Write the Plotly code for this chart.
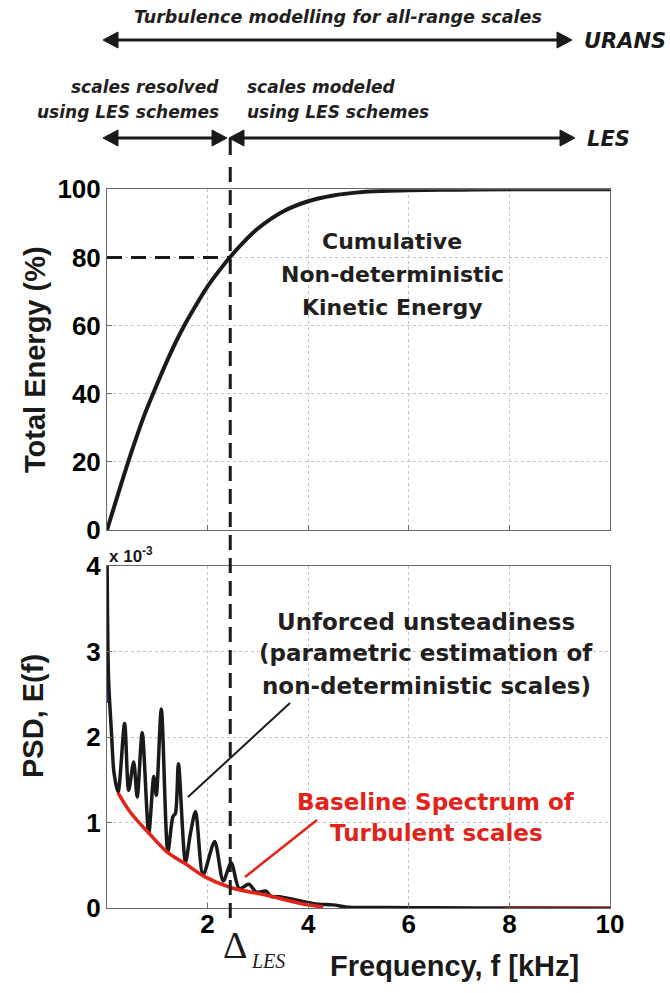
import plotly.graph_objects as go

# ---------------- data ----------------
# cumulative non-deterministic kinetic energy, frequency in kHz vs % of total
cum_freq = [0, 0.25, 0.5, 0.75, 1.0, 1.25, 1.5, 1.75, 2.0, 2.25, 2.5, 2.75,
            3.0, 3.5, 4.0, 4.5, 5.0, 5.5, 6.0, 7.0, 8.0, 10.0]
cum_energy = [0, 12.0, 23.5, 34.0, 43.0, 51.5, 59.0, 65.5, 71.5, 76.5, 81.0, 85.0,
              88.5, 93.5, 96.5, 98.2, 99.1, 99.5, 99.7, 99.9, 100, 100]

# unforced unsteadiness PSD (units of 1e-3)
psd_freq = [0.0, 0.03, 0.086, 0.14, 0.22, 0.35, 0.43, 0.53, 0.60, 0.70, 0.83, 0.93,
            0.98, 1.08, 1.21, 1.31, 1.36, 1.42, 1.56, 1.66, 1.76, 1.91, 2.14, 2.31,
            2.47, 2.63, 2.82, 2.97, 3.16, 3.26, 3.43, 3.73, 4.16, 4.49, 4.82, 5.5,
            6.5, 8.0, 10.0]
psd_value = [4.3, 2.7, 2.08, 1.58, 1.36, 2.16, 1.38, 1.71, 1.30, 2.05, 0.88, 1.54,
             1.32, 2.33, 0.66, 1.07, 1.11, 1.69, 0.54, 0.88, 1.13, 0.39, 0.78, 0.32,
             0.53, 0.23, 0.28, 0.19, 0.20, 0.14, 0.135, 0.10, 0.05, 0.04, 0.012, 0.008,
             0.005, 0.003, 0.002]

# baseline spectrum of turbulent scales (units of 1e-3)
base_freq = [0.22, 0.48, 0.83, 1.21, 1.56, 1.94, 2.47, 3.16, 3.83, 4.3]
base_value = [1.35, 1.11, 0.88, 0.65, 0.52, 0.37, 0.24, 0.155, 0.06, 0.015]
base_tail_freq = [7.9, 10.0]
base_tail_value = [0, 0]

blue_freq = [0.0, 0.0]
blue_value = [4.0, 2.4]

DELTA_LES = 2.45      # kHz
ENERGY_LEVEL = 80     # %

upper_yticks = [0, 20, 40, 60, 80, 100]
lower_yticks = [0, 1, 2, 3, 4]
lower_xticks = [2, 4, 6, 8, 10]
grid_xticks = [0, 2, 4, 6, 8, 10]

# ---------------- layout helpers ----------------
W, H = 670, 993
L, R = 107, 60
PW = W - L - R


def px_x(p):
    return (p - L) / PW


def px_y(p):
    return 1 - p / H


BLACK = "#1a1a1a"
TXT = "#231f20"
RED = "#e2231a"
FRAME = "#6a6a6a"

fig = go.Figure()

fig.add_trace(go.Scatter(x=cum_freq, y=cum_energy, mode="lines",
                         line=dict(color=BLACK, width=4, shape="spline", smoothing=1.0),
                         xaxis="x", yaxis="y", showlegend=False, hoverinfo="skip"))

fig.add_trace(go.Scatter(x=blue_freq, y=blue_value, mode="lines",
                         line=dict(color="#3b3bd6", width=2),
                         xaxis="x2", yaxis="y2", showlegend=False, hoverinfo="skip"))
fig.add_trace(go.Scatter(x=psd_freq, y=psd_value, mode="lines",
                         line=dict(color=BLACK, width=3.5, shape="spline", smoothing=0.8),
                         xaxis="x2", yaxis="y2", showlegend=False, hoverinfo="skip"))
fig.add_trace(go.Scatter(x=base_freq, y=base_value, mode="lines",
                         line=dict(color=RED, width=3.5, shape="spline", smoothing=1.0),
                         xaxis="x2", yaxis="y2", showlegend=False, hoverinfo="skip"))
fig.add_trace(go.Scatter(x=base_tail_freq, y=base_tail_value, mode="lines",
                         line=dict(color="#8a1010", width=3),
                         xaxis="x2", yaxis="y2", showlegend=False, hoverinfo="skip"))

axis_common = dict(showline=True, mirror=True, linecolor=FRAME, linewidth=1,
                   ticks="inside", ticklen=5, tickcolor=FRAME,
                   showgrid=True, gridcolor="#c4c4c4", griddash="dot", gridwidth=1,
                   zeroline=False, automargin=False,
                   tickfont=dict(family="Liberation Sans", size=26, color="black", weight="bold"))

fig.update_layout(
    width=W, height=H,
    margin=dict(l=L, r=R, t=0, b=0),
    paper_bgcolor="white", plot_bgcolor="white",
    xaxis=dict(domain=[0, 1], anchor="y", range=[0, 10], tickvals=grid_xticks,
               showticklabels=False, **axis_common),
    yaxis=dict(domain=[px_y(530), px_y(189.3)], anchor="x", range=[0, 100],
               tickvals=upper_yticks, **axis_common),
    xaxis2=dict(domain=[0, 1], anchor="y2", range=[0, 10], tickvals=lower_xticks,
                ticklabelstandoff=-8, **axis_common),
    yaxis2=dict(domain=[px_y(908.3), px_y(566)], anchor="x2", range=[0, 4],
                tickvals=lower_yticks, **axis_common),
)

shapes = []
# vertical Δ_LES dashed line
shapes.append(dict(type="line", xref="x", yref="paper", x0=DELTA_LES, x1=DELTA_LES,
                   y0=px_y(155), y1=px_y(138), line=dict(color=BLACK, width=3)))
shapes.append(dict(type="line", xref="x", yref="paper", x0=DELTA_LES, x1=DELTA_LES,
                   y0=px_y(918), y1=px_y(163),
                   line=dict(color=BLACK, width=3, dash="15px,8px")))
# horizontal 80 % dashed line
shapes.append(dict(type="line", xref="x", yref="y", x0=0, x1=DELTA_LES,
                   y0=ENERGY_LEVEL, y1=ENERGY_LEVEL,
                   line=dict(color=BLACK, width=3, dash="15px,9px")))


def arrow_line(x0, x1, y):
    shapes.append(dict(type="line", xref="paper", yref="paper",
                       x0=px_x(x0), x1=px_x(x1), y0=px_y(y), y1=px_y(y),
                       line=dict(color=BLACK, width=3)))


def head(tip, y, direction):
    base = tip - direction * 15
    path = (f"M {px_x(tip)},{px_y(y)} L {px_x(base)},{px_y(y - 8)} "
            f"L {px_x(base)},{px_y(y + 8)} Z")
    shapes.append(dict(type="path", xref="paper", yref="paper", path=path,
                       fillcolor=BLACK, line=dict(color=BLACK, width=1)))


# URANS arrow
arrow_line(110, 565, 40)
head(103, 40, -1)
head(572, 40, 1)
# LES arrows
arrow_line(110, 220, 138)
head(103, 138, -1)
head(227, 138, 1)
arrow_line(236, 568, 138)
head(229, 138, -1)
head(575, 138, 1)

# pointer lines
shapes.append(dict(type="line", xref="paper", yref="paper",
                   x0=px_x(188), y0=px_y(797), x1=px_x(290), y1=px_y(703),
                   line=dict(color=BLACK, width=2)))
shapes.append(dict(type="line", xref="paper", yref="paper",
                   x0=px_x(245), y0=px_y(877), x1=px_x(317), y1=px_y(820),
                   line=dict(color=RED, width=2.5)))

fig.update_layout(shapes=shapes)

ann = []


def text(t, x, y, size, xanchor="center", color=TXT, family="DejaVu Sans",
         weight="bold", style="normal", angle=0):
    ann.append(dict(text=t, x=px_x(x), y=px_y(y), xref="paper", yref="paper",
                    xanchor=xanchor, yanchor="middle", showarrow=False, textangle=angle,
                    font=dict(family=family, size=size, color=color, weight=weight,
                              style=style)))


text("Turbulence modelling for all-range scales", 338, 17, 17.5, style="italic")
text("URANS", 582, 41, 21, xanchor="left", style="italic", color=BLACK)
text("scales resolved", 221, 87, 17, xanchor="right", style="italic")
text("using LES schemes", 221, 112, 17, xanchor="right", style="italic")
text("scales modeled", 245, 87, 17, xanchor="left", style="italic")
text("using LES schemes", 245, 112, 17, xanchor="left", style="italic")
text("LES", 585, 139, 21, xanchor="left", style="italic", color=BLACK)

text("Cumulative", 392, 241, 22)
text("Non-deterministic", 392, 274, 22)
text("Kinetic Energy", 392, 307, 22)

text("Unforced unsteadiness", 426, 622, 23)
text("(parametric estimation of", 426, 653, 23)
text("non-deterministic scales)", 426, 686, 23)

text("Baseline Spectrum of", 436, 802, 23, color=RED)
text("Turbulent scales", 436, 833, 23, color=RED)

text("x 10<sup>-3</sup>", 107, 555, 17, xanchor="left", family="Liberation Sans",
     color=BLACK)

text("Δ", 235, 945, 38, family="Liberation Serif", color=BLACK, weight="normal")
text("LES", 249, 961, 20, xanchor="left", family="Liberation Serif", style="italic",
     color=BLACK, weight="normal")

text("Frequency, f [kHz]", 328, 966, 29, xanchor="left", family="Liberation Sans",
     color=BLACK)
text("Total Energy (%)", 35, 360, 29, family="Liberation Sans",
     color=BLACK, angle=-90)
text("PSD, E(f)", 33, 716, 29, family="Liberation Sans",
     color=BLACK, angle=-90)

fig.update_layout(annotations=ann)

fig.write_html("out.html")
